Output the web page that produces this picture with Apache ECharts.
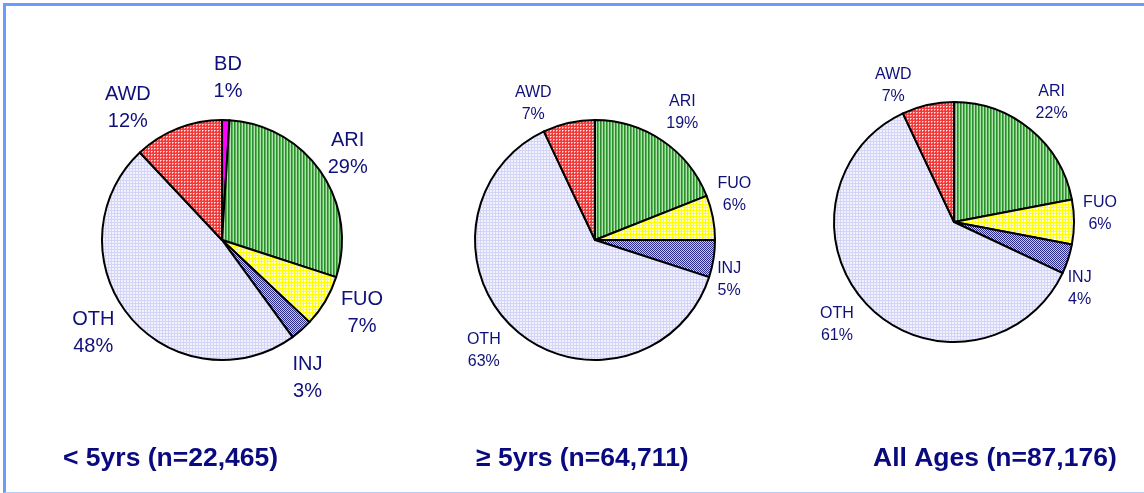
<!DOCTYPE html>
<html>
<head>
<meta charset="utf-8">
<script src="https://cdn.jsdelivr.net/npm/echarts@6/dist/echarts.min.js"></script>
<style>
  html, body { margin: 0; padding: 0; background: #fff; }
  #chart {
    box-sizing: border-box;
    border-top: 3px solid #6b9cf7;
    border-left: 3px solid #6b9cf7;
    border-bottom: 1px solid #b5ccfb;
    margin-top: 3px;
    margin-left: 3px;
    height: 490px;
    width: 1141px;
  }
</style>
</head>
<body>
<div id="chart"></div>
<script>
// 数据
var groupTitles = ['< 5yrs (n=22,465)', '\u2265 5yrs (n=64,711)', 'All Ages (n=87,176)'];
var under5Names = ['BD', 'ARI', 'FUO', 'INJ', 'OTH', 'AWD'];
var under5Values = [1, 29, 7, 3, 48, 12];
var over5Names = ['ARI', 'FUO', 'INJ', 'OTH', 'AWD'];
var over5Values = [19, 6, 5, 63, 7];
var allAgesNames = ['ARI', 'FUO', 'INJ', 'OTH', 'AWD'];
var allAgesValues = [22, 6, 4, 61, 7];

// 图案填充
function makePattern(size, draw) {
  var c = document.createElement('canvas');
  c.width = size; c.height = size;
  var ctx = c.getContext('2d');
  draw(ctx);
  return { image: c, repeat: 'repeat' };
}
function px(ctx, x, y, col) { ctx.fillStyle = col; ctx.fillRect(x, y, 1, 1); }

var patterns = {
  ARI: makePattern(3, function (ctx) {
    ctx.fillStyle = '#2a8c2a'; ctx.fillRect(0, 0, 1, 3);
    ctx.fillStyle = '#58b858'; ctx.fillRect(1, 0, 1, 3);
    ctx.fillStyle = '#b4e0b4'; ctx.fillRect(2, 0, 1, 3);
  }),
  FUO: makePattern(3, function (ctx) {
    ctx.fillStyle = '#ffffd0'; ctx.fillRect(0, 0, 3, 3);
    ctx.fillStyle = '#ffff00'; ctx.fillRect(0, 0, 3, 1); ctx.fillRect(0, 0, 1, 3);
  }),
  INJ: makePattern(2, function (ctx) {
    px(ctx, 0, 0, '#2b2b8c'); px(ctx, 1, 1, '#2b2b8c');
    px(ctx, 1, 0, '#c8c8f0'); px(ctx, 0, 1, '#c8c8f0');
  }),
  OTH: makePattern(3, function (ctx) {
    ctx.fillStyle = '#f2f2ff'; ctx.fillRect(0, 0, 3, 3);
    ctx.fillStyle = '#d4d4f6'; ctx.fillRect(0, 0, 3, 1); ctx.fillRect(0, 0, 1, 3);
  }),
  AWD: makePattern(3, function (ctx) {
    ctx.fillStyle = '#f23a3a'; ctx.fillRect(0, 0, 3, 3);
    px(ctx, 1, 1, '#ffe0e0'); px(ctx, 2, 1, '#ff9a9a'); px(ctx, 1, 2, '#ff9a9a');
  }),
  BD: '#ff00ff'
};

// 图表布局
var centers = [[216, 234], [589, 234], [948, 216]];
var radius = 120;
var labelDist = [158, 150, 150];
var labelSize = [20, 16, 16];
var labelNudge = [
  { AWD: [-36, 15], INJ: [-19, 19], FUO: [4, -7], BD: [1, -4], ARI: [-5, 3], OTH: [-7, -8] },
  { AWD: [-29, 10], INJ: [-14, 16], FUO: [-8, -17], OTH: [-12, -2], ARI: [3, -3] },
  { AWD: [-28, 10], INJ: [-17, 20], FUO: [-4, -8], OTH: [-11, -3], ARI: [2, -4] }
];
var titleLeft = [63, 476, 873];

var groups = [
  { names: under5Names, values: under5Values },
  { names: over5Names, values: over5Values },
  { names: allAgesNames, values: allAgesValues }
];

var myChart = echarts.init(document.getElementById('chart'), null, { renderer: 'canvas' });

var series = groups.map(function (g, i) {
  return {
    type: 'pie',
    center: centers[i],
    radius: [0, radius],
    startAngle: 90,
    clockwise: true,
    avoidLabelOverlap: false,
    silent: true,
    animation: false,
    itemStyle: { borderColor: '#000', borderWidth: 2 },
    label: {
      show: true,
      position: 'inside',
      formatter: '{b}\n{c}%',
      color: '#10107a',
      fontFamily: 'Liberation Sans, Arial, sans-serif',
      fontSize: labelSize[i],
      lineHeight: Math.round(labelSize[i] * 1.35),
      align: 'center'
    },
    labelLine: { show: false },
    // 标签沿半径向外推
    labelLayout: function (params) {
      var r = params.labelRect;
      var lx = r.x + r.width / 2, ly = r.y + r.height / 2;
      var vx = lx - centers[i][0], vy = ly - centers[i][1];
      var len = Math.sqrt(vx * vx + vy * vy) || 1;
      var tx = centers[i][0] + vx / len * labelDist[i];
      var ty = centers[i][1] + vy / len * labelDist[i];
      var nudge = labelNudge[i][g.names[params.dataIndex]] || [0, 0];
      return { dx: tx - lx + nudge[0], dy: ty - ly + nudge[1] };
    },
    data: g.names.map(function (n, k) {
      return { name: n, value: g.values[k], itemStyle: { color: patterns[n] } };
    })
  };
});

var option = {
  backgroundColor: '#fff',
  title: groupTitles.map(function (t, i) {
    return {
      text: t,
      left: titleLeft[i] - 6,
      top: 439,
      padding: 0,
      textStyle: {
        color: '#0a0a80',
        fontFamily: 'Liberation Sans, Arial, sans-serif',
        fontWeight: 'bold',
        fontSize: 26.5
      }
    };
  }),
  series: series
};

myChart.setOption(option);
</script>
</body>
</html>
